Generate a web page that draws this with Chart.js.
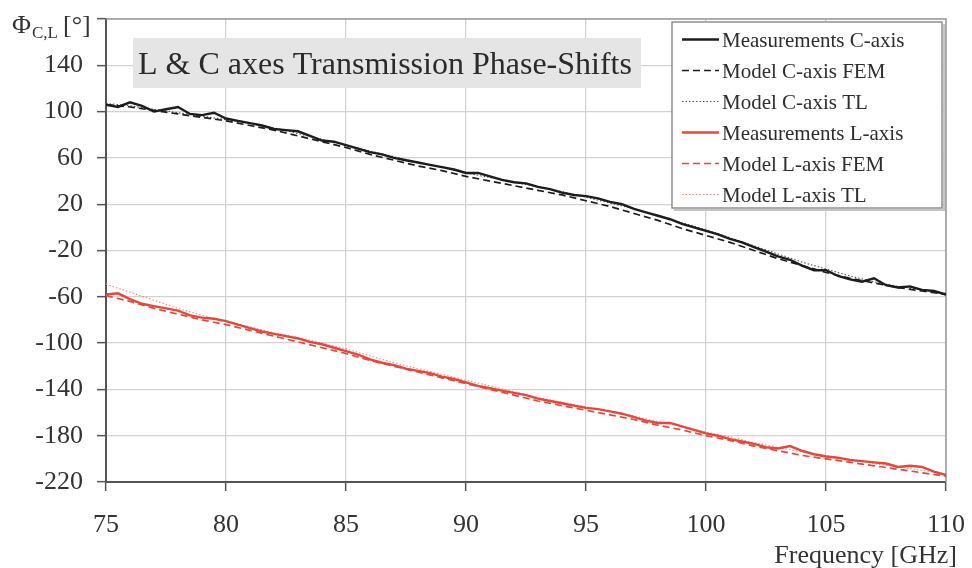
<!DOCTYPE html>
<html lang="en">
<head>
<meta charset="UTF-8" />
<title>L &amp; C axes Transmission Phase-Shifts</title>
<style>
  html, body { margin: 0; padding: 0; background: #fff; }
  #wrap { width: 972px; height: 568px; }
</style>
</head>
<body>
<div id="wrap"><canvas id="phaseChart" width="972" height="568"></canvas></div>

<script src="https://cdn.jsdelivr.net/npm/chart.js"></script>
<script>
// frequency grids [GHz]
const freqFine = [75, 75.5, 76, 76.5, 77, 77.5, 78, 78.5, 79, 79.5, 80, 80.5, 81, 81.5, 82, 82.5, 83, 83.5, 84, 84.5,
  85, 85.5, 86, 86.5, 87, 87.5, 88, 88.5, 89, 89.5, 90, 90.5, 91, 91.5, 92, 92.5, 93, 93.5, 94, 94.5,
  95, 95.5, 96, 96.5, 97, 97.5, 98, 98.5, 99, 99.5, 100, 100.5, 101, 101.5, 102, 102.5, 103, 103.5, 104, 104.5,
  105, 105.5, 106, 106.5, 107, 107.5, 108, 108.5, 109, 109.5, 110];
const freqModel = [75, 76, 77, 78, 79, 80, 81, 82, 83, 84, 85, 86, 87, 88, 89, 90, 91, 92, 93, 94,
  95, 96, 97, 98, 99, 100, 101, 102, 103, 104, 105, 106, 107, 108, 109, 110];

// C-axis phase [deg]
const cMeasured = [106, 104, 108, 105, 100, 102, 104, 98, 97, 99, 94, 92, 90, 88, 85, 84, 83, 79, 75, 74,
  71, 68, 65, 63, 60, 58, 56, 54, 52, 50, 47, 47, 44, 41, 39, 38, 35, 33, 30, 28,
  27, 25, 22, 20, 16, 13, 10, 7, 3, 0, -3, -6, -10, -13, -17, -21, -25, -28, -33, -37,
  -37, -42, -45, -47, -44, -50, -52, -51, -54, -55, -58];
const cFem = [106, 104, 101, 98, 95, 92, 88, 84, 79, 74, 69, 63, 58, 53, 49, 44, 40, 36, 32, 28,
  23, 18, 12, 6, -1, -7, -13, -20, -27, -33, -39, -44, -48, -52, -55, -58];
const cTl = [107, 105, 102, 99, 96, 93, 90, 86, 81, 76, 71, 66, 61, 56, 52, 47, 43, 39, 35, 31,
  26, 21, 16, 10, 4, -2, -9, -16, -23, -30, -36, -42, -47, -51, -54, -57];

// L-axis phase [deg]
const lMeasured = [-58, -57, -62, -66, -68, -70, -72, -76, -78, -79, -81, -84, -87, -90, -92, -94, -96, -99, -101, -104,
  -107, -110, -114, -117, -119, -122, -124, -126, -129, -131, -134, -137, -139, -141, -143, -145, -148, -150, -152, -154,
  -156, -157, -159, -161, -164, -167, -169, -169, -172, -175, -178, -180, -183, -185, -187, -190, -191, -189, -193, -196,
  -198, -199, -201, -202, -203, -204, -207, -206, -207, -211, -214];
const lFem = [-59, -64, -70, -75, -80, -84, -89, -94, -99, -104, -109, -115, -120, -125, -130, -135, -140, -145, -150, -154,
  -158, -162, -166, -171, -175, -180, -184, -189, -193, -197, -200, -203, -206, -209, -212, -215];
const lTl = [-49, -56, -63, -70, -76, -81, -86, -91, -95, -100, -105, -111, -117, -122, -127, -132, -137, -142, -147, -151,
  -155, -159, -163, -168, -172, -177, -181, -186, -190, -194, -197, -201, -204, -207, -210, -213];

const seriesLabels = ['Measurements C-axis', 'Model C-axis FEM', 'Model C-axis TL',
  'Measurements L-axis', 'Model L-axis FEM', 'Model L-axis TL'];

const BLACK = '#1c1c1c';
const RED = '#e4483c';
const SERIF = '"Liberation Serif", "Times New Roman", serif';

function pts(xs, ys) {
  return xs.map((x, i) => ({ x: x, y: ys[i] }));
}

const datasets = [
  { label: seriesLabels[0], data: pts(freqFine, cMeasured), borderColor: BLACK, borderWidth: 2.4 },
  { label: seriesLabels[1], data: pts(freqModel, cFem), borderColor: BLACK, borderWidth: 1.7, borderDash: [7, 4] },
  { label: seriesLabels[2], data: pts(freqModel, cTl), borderColor: '#555', borderWidth: 1.1, borderDash: [1.5, 2] },
  { label: seriesLabels[3], data: pts(freqFine, lMeasured), borderColor: RED, borderWidth: 2.4 },
  { label: seriesLabels[4], data: pts(freqModel, lFem), borderColor: RED, borderWidth: 1.7, borderDash: [7, 4] },
  { label: seriesLabels[5], data: pts(freqModel, lTl), borderColor: '#f08a82', borderWidth: 1.1, borderDash: [1.5, 2] }
];

// shrink/grow a font so a string fills a given width
function fitFont(ctx, text, width, size) {
  ctx.font = size + 'px ' + SERIF;
  return size * width / ctx.measureText(text).width;
}

const decorations = {
  id: 'decorations',
  beforeDatasetsDraw(chart) {
    const { ctx, chartArea: a } = chart;
    ctx.save();
    // light frame on top and right
    ctx.strokeStyle = '#9c9c9c';
    ctx.lineWidth = 1.5;
    ctx.beginPath();
    ctx.moveTo(a.left, a.top);
    ctx.lineTo(a.right, a.top);
    ctx.lineTo(a.right, a.bottom);
    ctx.stroke();

    // title box
    const title = 'L & C axes Transmission Phase-Shifts';
    ctx.fillStyle = '#e5e5e5';
    ctx.fillRect(133, 38, 508, 50);
    const fs = fitFont(ctx, title, 494, 30);
    ctx.font = fs + 'px ' + SERIF;
    ctx.fillStyle = '#2a2a2a';
    ctx.textBaseline = 'alphabetic';
    ctx.textAlign = 'left';
    ctx.fillText(title, 138, 74);
    ctx.restore();
  },
  afterDraw(chart) {
    const { ctx } = chart;
    ctx.save();

    // legend
    ctx.fillStyle = '#fff';
    ctx.fillRect(672, 22, 270, 186);
    ctx.strokeStyle = '#c4c4c4';
    ctx.lineWidth = 2;
    ctx.beginPath();
    ctx.moveTo(944, 24);
    ctx.lineTo(944, 210);
    ctx.lineTo(674, 210);
    ctx.stroke();
    ctx.strokeStyle = '#7e7e7e';
    ctx.lineWidth = 1.3;
    ctx.strokeRect(672, 22, 270, 186);

    ctx.textAlign = 'left';
    ctx.textBaseline = 'alphabetic';
    chart.data.datasets.forEach((ds, i) => {
      const y = 46.5 + 31 * i;
      ctx.strokeStyle = ds.borderColor;
      ctx.lineWidth = ds.borderWidth;
      ctx.setLineDash(ds.borderDash || []);
      ctx.beginPath();
      ctx.moveTo(682, y - 7);
      ctx.lineTo(719, y - 7);
      ctx.stroke();
      ctx.setLineDash([]);
      ctx.font = '21px ' + SERIF;
      ctx.fillStyle = '#2e2e2e';
      ctx.fillText(ds.label, 722, y);
    });

    // axis titles
    ctx.fillStyle = '#333';
    ctx.font = '26px ' + SERIF;
    ctx.textAlign = 'right';
    ctx.fillText('Frequency [GHz]', 957, 563);

    ctx.textAlign = 'left';
    ctx.fillText('\u03A6', 12, 33);
    ctx.font = '17px ' + SERIF;
    ctx.fillText('C,L', 32, 38);
    ctx.font = '26px ' + SERIF;
    ctx.fillText('[\u00B0]', 63, 33);
    ctx.restore();
  }
};

new Chart(document.getElementById('phaseChart'), {
  type: 'line',
  data: { datasets: datasets },
  options: {
    responsive: false,
    animation: false,
    devicePixelRatio: 1,
    layout: { padding: { top: 19, right: 26, left: 0, bottom: 0 } },
    elements: {
      point: { radius: 0 },
      line: { tension: 0, fill: false }
    },
    plugins: {
      legend: { display: false },
      tooltip: { enabled: false }
    },
    scales: {
      x: {
        type: 'linear',
        min: 75,
        max: 110,
        afterFit(scale) {
          scale.height = 86;
          scale.paddingLeft = 0;
          scale.paddingRight = 0;
        },
        ticks: {
          stepSize: 5,
          padding: 19,
          color: '#333',
          font: { family: SERIF, size: 26 }
        },
        grid: { color: '#d2d2d2', lineWidth: 1.3, tickLength: 9, tickColor: '#555', tickWidth: 1.5 },
        border: { color: '#555', width: 2 }
      },
      y: {
        type: 'linear',
        min: -220,
        max: 180,
        afterFit(scale) {
          scale.width = 106;
          scale.paddingTop = 0;
          scale.paddingBottom = 0;
        },
        ticks: {
          stepSize: 40,
          padding: 14,
          color: '#333',
          font: { family: SERIF, size: 26 },
          callback: v => (v === 180 ? '' : v)
        },
        grid: { color: '#d2d2d2', lineWidth: 1.3, tickLength: 9, tickColor: '#555', tickWidth: 1.5 },
        border: { color: '#555', width: 2 }
      }
    }
  },
  plugins: [decorations]
});
</script>
</body>
</html>
